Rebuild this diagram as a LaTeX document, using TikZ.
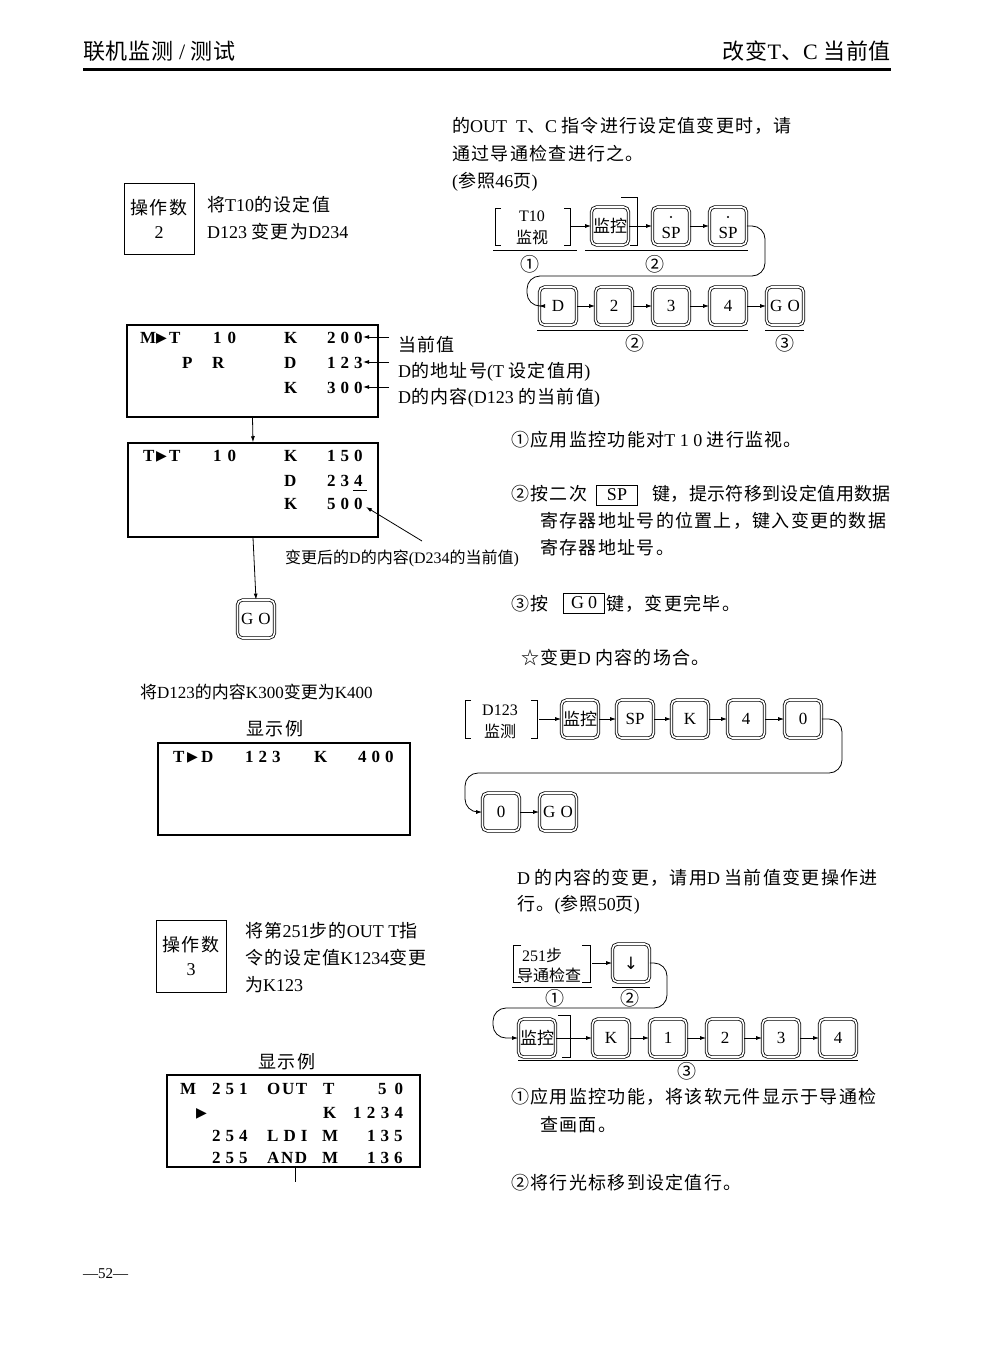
\documentclass[tikz,border=0pt]{standalone}
\usepackage{fontspec}
\setmainfont{Liberation Serif}
\newfontfamily\cjkf{Noto Sans CJK SC}
\newfontfamily\symf{DejaVu Sans}
\usetikzlibrary{arrows.meta}
\newdimen\cjkgap \cjkgap=1.3pt
\chardef\CJKcls=10
\count255="3000
\loop\XeTeXcharclass\count255=\CJKcls\advance\count255 by 1 \ifnum\count255<"A000 \repeat
\count255="FF00
\loop\XeTeXcharclass\count255=\CJKcls\advance\count255 by 1 \ifnum\count255<"FFF0 \repeat
\count255="2460
\loop\XeTeXcharclass\count255=\CJKcls\advance\count255 by 1 \ifnum\count255<"2474 \repeat
\XeTeXcharclass"2606=\CJKcls
\XeTeXinterchartoks 0 \CJKcls={\cjkf}
\XeTeXinterchartoks 4095 \CJKcls={\cjkf}
\XeTeXinterchartoks \CJKcls 0={\rmfamily}
\XeTeXinterchartoks \CJKcls 4095={\rmfamily}
\XeTeXinterchartoks \CJKcls \CJKcls={\kern\cjkgap}
\makeatletter
\newcommand\LS[2][5pt]{\begingroup\let\ls@sep\relax\@tfor\ls@c:=#2\do{\ls@sep\ls@c\def\ls@sep{\kern#1}}\endgroup}
\makeatother
\newcommand\fbody{\fontsize{18}{20}\selectfont\cjkgap=1.3pt\relax}
\newcommand\ftight{\fontsize{18}{20}\selectfont\cjkgap=0.4pt\relax}
\newcommand\fhead{\fontsize{22}{24}\selectfont\cjkgap=0.8pt\relax}
\newcommand\fsmall{\fontsize{16}{18}\selectfont\cjkgap=0pt\relax}
\newcommand\fmid{\fontsize{17}{19}\selectfont\cjkgap=0pt\relax}
\newcommand\fkey{\fontsize{17}{18}\selectfont\cjkgap=0pt\relax}
\newcommand\fbrk{\fontsize{16}{17}\selectfont\cjkgap=0pt\relax}
\newcommand\fcirc{\fontsize{19}{20}\selectfont\cjkgap=0pt\relax}
\newcommand\flcd{\fontsize{17}{18}\selectfont\bfseries}
\newcommand\ftri{\fontsize{14}{14}\selectfont\symf}
\XeTeXinterchartokenstate=1
\begin{document}
\begin{tikzpicture}[x=1pt,y=-1pt,
  every node/.style={inner sep=0pt},
  txt/.style={anchor=west,font=\fbody},
  key/.style={draw,double,double distance=1.6pt,line width=0.8pt,rounded corners=5pt,
    minimum width=37pt,minimum height=38pt,font=\fkey},
  keytxt/.style={font=\fkey},
  arr/.style={-{Latex[length=6pt,width=4pt]},line width=0.8pt},
  conn/.style={arr,rounded corners=13pt},
  lcd/.style={draw,line width=1.5pt},
  lt/.style={anchor=base west,font=\flcd},
  tri/.style={anchor=base west,font=\ftri},
  circ/.style={font=\fcirc},
  ul/.style={line width=1pt},
  brk/.style={line width=1pt},
  opbox/.style={draw,line width=1pt,minimum width=70pt,minimum height=71pt,align=center,font=\fbody},
  inbox/.style={draw,line width=0.8pt,minimum width=41pt,minimum height=20pt,font=\fbody}]
\useasboundingbox (0,0) rectangle (992,1346);
\fill[white] (0,0) rectangle (992,1346);

% header
\node[anchor=west,font=\fhead] (hl) at (83,51) {联机监测 / 测试};
\node[anchor=east,font=\fhead] (hr) at (891,51) {改变T、C 当前值};
\draw[line width=3pt] (83,70) -- (891,70);

% top paragraph
\node[txt] (p1) at (452,126) {的OUT\ \ T、C 指令进行设定值变更时，请};
\node[txt] (p2) at (452,154) {通过导通检查进行之。};
\node[txt] (p3) at (452,182) {(参照46页)};

% operation 2
\node[opbox] (op2) at (159,218.5) {操作数\\[4pt]2};
\node[txt] (o2a) at (207,205) {将T10的设定值};
\node[txt] (o2b) at (207,232) {D123 变更为D234};

% key diagram 1
\draw[brk] (501,208) -- (495,208) -- (495,245) -- (501,245);
\draw[brk] (564,208) -- (570,208) -- (570,245) -- (564,245);
\node[font=\fbrk] (b1t) at (532,216) {T10};
\node[font=\fbrk] (b1b) at (532,237) {监视};
\coordinate (b1r) at (571,226);
\node[key] (k1m) at (610,226) {监控};
\draw[brk] (621,197) -- (637,197) -- (637,245) -- (630,245);
\node[key] (k1s1) at (671,226) {};
\node[keytxt] (k1s1t) at (671,233) {SP};
\fill (671,217) circle (1.2);
\node[key] (k1s2) at (728,226) {};
\node[keytxt] (k1s2t) at (728,233) {SP};
\fill (728,217) circle (1.2);
\node[key] (k1d) at (558,306) {D};
\node[key] (k12) at (614,306) {2};
\node[key] (k13) at (671,306) {3};
\node[key] (k14) at (728,306) {4};
\node[key] (k1go) at (785,306) {G\kern5pt O};
\draw[arr] (b1r) -- (k1m.west);
\draw[arr] (k1m.east) -- (k1s1.west);
\draw[arr] (k1s1.east) -- (k1s2.west);
\draw[conn] (k1s2.east) -- (765,226) -- (765,276) -- (527,276) -- (527,306) -- (k1d.west);
\draw[arr] (k1d.east) -- (k12.west);
\draw[arr] (k12.east) -- (k13.west);
\draw[arr] (k13.east) -- (k14.west);
\draw[arr] (k14.east) -- (k1go.west);
\draw[ul] (493,250) -- (577,250);
\draw[ul] (585,250) -- (748,250);
\draw[ul] (537,330) -- (748,330);
\draw[ul] (765,330) -- (804,330);
\node[circ] (c1) at (530,264) {①};
\node[circ] (c2) at (655,264) {②};
\node[circ] (c3) at (635,343) {②};
\node[circ] (c4) at (785,343) {③};

% LCD 1
\node[lcd,minimum width=251pt,minimum height=92pt] (lcd1) at (252.5,371) {};
\node[lt] (l1a) at (140,343) {M};
\node[tri] (l1b) at (156,342) {▶};
\node[lt] (l1c) at (169,343) {T};
\node[lt] (l1d) at (213,343) {\LS[6pt]{10}};
\node[lt] (l1e) at (284,343) {K};
\node[lt] (l1f) at (327,343) {\LS{200}};
\node[lt] (l1g) at (182,368) {P};
\node[lt] (l1h) at (212,368) {R};
\node[lt] (l1i) at (284,368) {D};
\node[lt] (l1j) at (327,368) {\LS{123}};
\node[lt] (l1k) at (284,393) {K};
\node[lt] (l1l) at (327,393) {\LS{300}};
\coordinate (a1s) at (389,337); \coordinate (a1e) at (363,337);
\coordinate (a2s) at (389,362); \coordinate (a2e) at (363,362);
\coordinate (a3s) at (389,387); \coordinate (a3e) at (363,387);
\draw[arr] (a1s) -- (a1e);
\draw[arr] (a2s) -- (a2e);
\draw[arr] (a3s) -- (a3e);
\node[txt] (lab1) at (398,345) {当前值};
\node[txt] (lab2) at (398,372) {D的地址号(T 设定值用)};
\node[txt] (lab3) at (398,398) {D的内容(D123 的当前值)};

% LCD 2
\node[lcd,minimum width=250pt,minimum height=94pt] (lcd2) at (253,490) {};
\draw[arr] (lcd1.south) -- (lcd2.north);
\node[lt] (l2a) at (143,461) {T};
\node[tri] (l2b) at (156,460) {▶};
\node[lt] (l2c) at (169,461) {T};
\node[lt] (l2d) at (213,461) {\LS[6pt]{10}};
\node[lt] (l2e) at (284,461) {K};
\node[lt] (l2f) at (327,461) {\LS{150}};
\node[lt] (l2g) at (284,486) {D};
\node[lt] (l2h) at (327,486) {\LS{234}};
\draw[line width=0.8pt] (353,490) -- (367,490);
\node[lt] (l2i) at (284,509) {K};
\node[lt] (l2j) at (327,509) {\LS{500}};
\coordinate (a4s) at (422,541); \coordinate (a4e) at (366,507);
\draw[arr] (a4s) -- (a4e);
\node[anchor=west,font=\fsmall] (small) at (285,558) {变更后的D的内容(D234的当前值)};
\node[key] (k0go) at (256,619) {G\kern5pt O};
\draw[arr] (lcd2.south) -- (k0go.north);

% right explanations 1
\node[txt] (e1) at (511,440) {①应用监控功能对T 1 0 进行监视。};
\node[txt] (e2a) at (511,494) {②按二次};
\node[inbox] (spb) at (617,495) {SP};
\node[anchor=west,font=\ftight] (e2b) at (652,494) {键，提示符移到设定值用数据};
\node[txt] (e2c) at (540,521) {寄存器地址号的位置上，键入变更的数据};
\node[txt] (e2d) at (540,548) {寄存器地址号。};
\node[txt] (e3a) at (511,604) {③按};
\node[inbox] (gob) at (584,603) {G\kern4pt 0};
\node[txt] (e3b) at (606,604) {键，变更完毕。};
\node[txt] (star) at (521,658) {☆变更D 内容的场合。};

% K300 -> K400
\node[anchor=west,font=\fmid] (k3t) at (140,692) {将D123的内容K300变更为K400};
\node[font=\fbody] (disp1) at (275,729) {显示例};
\node[lcd,minimum width=252pt,minimum height=92pt] (lcd3) at (284,789) {};
\node[lt] (l3a) at (173,762) {T};
\node[tri] (l3b) at (187,761) {▶};
\node[lt] (l3c) at (201,762) {D};
\node[lt] (l3d) at (245,762) {\LS{123}};
\node[lt] (l3e) at (314,762) {K};
\node[lt] (l3f) at (358,762) {\LS{400}};

% key diagram 2
\draw[brk] (471,700) -- (465,700) -- (465,738) -- (471,738);
\draw[brk] (531,700) -- (537,700) -- (537,738) -- (531,738);
\node[font=\fbrk] (b2t) at (500,710) {D123};
\node[font=\fbrk] (b2b) at (500,731) {监测};
\coordinate (b2r) at (539,719);
\node[key] (k2m) at (580,719) {监控};
\node[key] (k2sp) at (635,719) {SP};
\node[key] (k2k) at (690,719) {K};
\node[key] (k24) at (746,719) {4};
\node[key] (k20) at (803,719) {0};
\node[key] (k2r0) at (501,812) {0};
\node[key] (k2go) at (558,812) {G\kern5pt O};
\draw[arr] (b2r) -- (k2m.west);
\draw[arr] (k2m.east) -- (k2sp.west);
\draw[arr] (k2sp.east) -- (k2k.west);
\draw[arr] (k2k.east) -- (k24.west);
\draw[arr] (k24.east) -- (k20.west);
\draw[conn] (k20.east) -- (842,719) -- (842,773) -- (465,773) -- (465,812) -- (k2r0.west);
\draw[arr] (k2r0.east) -- (k2go.west);

% D content text
\node[txt] (d1) at (517,878) {D 的内容的变更，请用D 当前值变更操作进};
\node[txt] (d2) at (517,905) {行。(参照50页)};

% operation 3
\node[opbox,minimum height=72pt] (op3) at (191,956) {操作数\\[4pt]3};
\node[txt] (o3a) at (245,931) {将第251步的OUT T指};
\node[txt] (o3b) at (245,958) {令的设定值K1234变更};
\node[txt] (o3c) at (245,985) {为K123};

% key diagram 3
\draw[brk] (521,945) -- (513,945) -- (513,982) -- (521,982);
\draw[brk] (582,945) -- (590,945) -- (590,982) -- (582,982);
\node[anchor=west,font=\fbrk] (b3t) at (522,955) {251步};
\node[anchor=west,font=\fbrk] (b3b) at (517,975) {导通检查};
\coordinate (b3r) at (592,963);
\node[key] (k3dn) at (631,963) {\symf ↓};
\draw[arr] (b3r) -- (k3dn.west);
\draw[ul] (512,987) -- (592,987);
\draw[ul] (612,987) -- (650,987);
\node[circ] (c5) at (555,998) {①};
\node[circ] (c6) at (630,998) {②};
\node[key] (k3m) at (537,1038) {监控};
\draw[brk] (558,1015) -- (570,1015) -- (570,1057) -- (562,1057);
\node[key] (k3k) at (611,1038) {K};
\node[key] (k31) at (668,1038) {1};
\node[key] (k32) at (725,1038) {2};
\node[key] (k33) at (781,1038) {3};
\node[key] (k34) at (838,1038) {4};
\draw[conn] (k3dn.east) -- (667,963) -- (667,1008) -- (493,1008) -- (493,1038) -- (k3m.west);
\draw[arr] (k3m.east) -- (k3k.west);
\draw[arr] (k3k.east) -- (k31.west);
\draw[arr] (k31.east) -- (k32.west);
\draw[arr] (k32.east) -- (k33.west);
\draw[arr] (k33.east) -- (k34.west);
\draw[ul] (518,1060) -- (858,1060);
\node[circ] (c7) at (687,1071) {③};

% LCD 4
\node[font=\fbody] (disp2) at (287,1062) {显示例};
\node[lcd,minimum width=253pt,minimum height=92pt] (lcd4) at (293.5,1121) {};
\node[lt] (l4a) at (180,1094) {M};
\node[lt] (l4b) at (212,1094) {\LS{251}};
\node[lt] (l4c) at (267,1094) {\LS[1.6pt]{OUT}};
\node[lt] (l4d) at (323,1094) {T};
\node[lt] (l4e) at (378,1094) {\LS[8pt]{50}};
\node[tri] (l4f) at (196,1117) {▶};
\node[lt] (l4g) at (323,1118) {K};
\node[lt] (l4h) at (353,1118) {\LS[5.3pt]{1234}};
\node[lt] (l4i) at (212,1141) {\LS{254}};
\node[lt] (l4j) at (267,1141) {\LS[5pt]{LDI}};
\node[lt] (l4k) at (322,1141) {M};
\node[lt] (l4l) at (367,1141) {\LS{135}};
\node[lt] (l4m) at (212,1163) {\LS{255}};
\node[lt] (l4n) at (267,1163) {\LS[1.6pt]{AND}};
\node[lt] (l4o) at (322,1163) {M};
\node[lt] (l4p) at (367,1163) {\LS{136}};
\coordinate (tk) at (295,1182);
\draw[line width=1pt] (lcd4.south -| tk) -- (tk);

% right explanations 3
\node[txt] (f1) at (511,1097) {①应用监控功能，将该软元件显示于导通检};
\node[txt] (f2) at (540,1125) {查画面。};
\node[txt] (f3) at (511,1183) {②将行光标移到设定值行。};

% footer
\node[anchor=west,font=\fontsize{15}{16}\selectfont] (foot) at (83,1274) {—52—};
\end{tikzpicture}
\end{document}
